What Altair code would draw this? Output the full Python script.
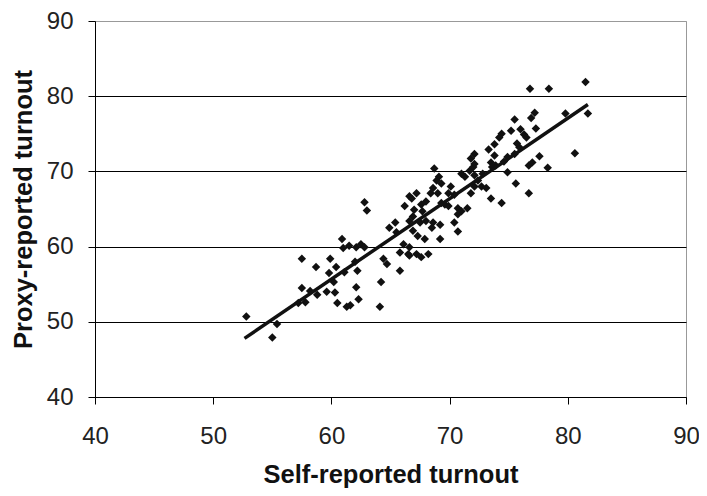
import altair as alt
import pandas as pd

# Self-reported turnout (x) and proxy-reported turnout (y)
self_reported = [
    52.8, 55.0, 55.4, 57.2, 57.8, 57.5, 58.2, 58.8, 59.6, 60.3,
    60.2, 60.5, 61.3, 57.5, 58.7, 59.9, 60.4, 59.8, 60.9, 61.0,
    61.5, 62.1, 62.5, 62.8, 62.0, 62.2, 62.1, 62.3, 61.6, 61.1,
    62.8, 63.0, 64.2, 64.1, 64.4, 64.7, 65.8, 64.9, 65.4, 65.5,
    66.1, 66.6, 66.5, 66.2, 66.6, 67.2, 67.0, 66.9, 67.2, 65.8,
    68.7, 69.1, 68.9, 69.3, 68.6, 69.0, 68.4, 66.8, 68.0, 67.6,
    69.3, 69.6, 69.9, 67.7, 66.6, 67.5, 68.0, 68.6, 68.5, 69.2,
    66.9, 67.3, 67.9, 69.2, 70.7, 71.0, 71.3, 71.7, 72.0, 70.7,
    71.0, 70.7, 70.4, 70.1, 69.9, 70.4, 72.1, 71.8, 67.6, 66.6,
    68.2, 75.5, 76.9, 77.2, 75.2, 76.0, 76.3, 76.5, 74.4, 73.8,
    72.1, 73.8, 73.5, 73.9, 73.6, 74.9, 74.6, 75.5, 75.9, 75.7,
    76.7, 77.0, 72.8, 72.4, 72.1, 72.7, 73.1, 71.8, 74.9, 75.6,
    73.5, 74.4, 76.7, 71.5, 76.8, 78.4, 81.5, 79.8, 81.7, 77.3,
    80.6, 77.6, 78.3, 72.1, 73.3, 74.2,
]
proxy_reported = [
    50.7, 47.9, 49.7, 52.5, 52.6, 54.5, 54.1, 53.6, 54.0, 53.9,
    55.3, 52.5, 52.0, 58.4, 57.3, 58.4, 57.3, 56.5, 61.0, 59.8,
    60.1, 59.9, 60.3, 59.9, 58.0, 56.8, 54.6, 53.0, 52.2, 56.6,
    65.9, 64.8, 55.3, 52.0, 58.4, 57.7, 56.8, 62.5, 63.2, 61.9,
    60.3, 59.9, 59.0, 65.4, 66.7, 67.1, 64.9, 64.0, 59.0, 59.2,
    70.4, 69.3, 68.8, 68.4, 67.8, 67.1, 67.1, 66.4, 66.0, 65.6,
    65.8, 65.6, 65.4, 64.7, 63.4, 63.2, 63.4, 63.2, 62.5, 62.9,
    62.1, 61.4, 61.0, 61.0, 62.0, 69.7, 69.3, 70.1, 70.6, 65.1,
    64.7, 64.3, 63.2, 68.0, 67.1, 66.9, 72.3, 71.7, 58.6, 58.8,
    59.0, 76.9, 77.1, 77.8, 75.4, 75.6, 74.9, 74.5, 75.0, 73.6,
    71.0, 72.1, 71.2, 70.8, 70.6, 71.9, 71.3, 72.3, 73.2, 73.7,
    70.8, 71.2, 69.7, 68.8, 68.0, 68.0, 67.8, 67.1, 69.9, 68.4,
    66.4, 65.8, 67.1, 65.1, 81.0, 81.0, 81.9, 77.7, 77.7, 75.7,
    72.4, 72.0, 70.5, 69.5, 72.9, 74.5,
]

# Trend line end points
fit_self = [52.65, 81.7]
fit_proxy = [47.8, 78.9]

tick_values = [40, 50, 60, 70, 80, 90]

df = pd.DataFrame({"self": self_reported, "proxy": proxy_reported})
fit = pd.DataFrame({"self": fit_self, "proxy": fit_proxy})

FONT = "Liberation Sans"

x_enc = alt.X(
    "self:Q",
    scale=alt.Scale(domain=[40, 90], nice=False, zero=False),
    axis=alt.Axis(
        values=tick_values,
        title="Self-reported turnout",
        grid=False,
        domainColor="#000",
        tickColor="#000",
        tickSize=7,
        labelFlush=False,
        labelFontSize=24,
        labelFont=FONT,
        labelColor="#222",
        labelPadding=20,
        titleFontSize=25.5,
        titleFont=FONT,
        titleFontWeight="bold",
        titleColor="#111",
        titlePadding=14,
    ),
)
y_enc = alt.Y(
    "proxy:Q",
    scale=alt.Scale(domain=[40, 90], nice=False, zero=False),
    axis=alt.Axis(
        values=tick_values,
        title="Proxy-reported turnout",
        grid=True,
        gridColor={"condition": {"test": "datum.value == 90", "value": "#999"}, "value": "#000"},
        gridWidth=1,
        domainColor="#000",
        tickColor="#000",
        tickSize=7,
        labelFlush=False,
        labelFontSize=24,
        labelFont=FONT,
        labelColor="#222",
        labelPadding=15,
        titleFontSize=25.5,
        titleFont=FONT,
        titleFontWeight="bold",
        titleColor="#111",
        titlePadding=10,
    ),
)

points = alt.Chart(df).mark_point(
    shape="diamond", filled=True, color="#111", size=72, opacity=1
).encode(x=x_enc, y=y_enc)

line = alt.Chart(fit).mark_line(color="#111", strokeWidth=3.5).encode(
    x="self:Q", y="proxy:Q"
)

chart = (
    alt.layer(points, line)
    .properties(
        width=591,
        height=376,
        autosize=alt.AutoSizeParams(type="none"),
        padding={"left": 87, "top": 13, "right": 13, "bottom": 91},
    )
    .configure_view(stroke="#999", strokeWidth=1)
)

chart.save("out.html", embed_options={"renderer": "svg", "actions": False})
